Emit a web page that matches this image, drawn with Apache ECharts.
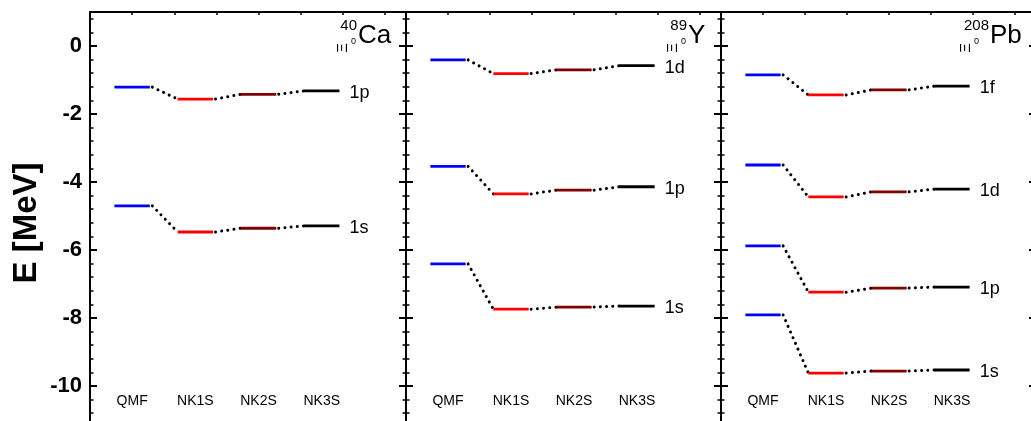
<!DOCTYPE html>
<html>
<head>
<meta charset="utf-8">
<script src="https://cdn.jsdelivr.net/npm/echarts@6/dist/echarts.min.js"></script>
<style>
  html, body { margin: 0; padding: 0; background: #fff; }
  #main { width: 1031px; height: 421px; }
</style>
</head>
<body>
<div id="main"></div>
<script>
// models along the x axis
var methods = ['QMF', 'NK1S', 'NK2S', 'NK3S'];
var methodX = [1, 2.5, 4, 5.5];
var methodColors = ['#0000ff', '#ff0000', '#800000', '#000000'];

// Xi0 single particle energies (MeV), order QMF, NK1S, NK2S, NK3S
var ca1p = [-1.21, -1.56, -1.42, -1.32];
var ca1s = [-4.70, -5.47, -5.36, -5.29];

var y1d = [-0.41, -0.81, -0.70, -0.58];
var y1p = [-3.54, -4.35, -4.24, -4.14];
var y1s = [-6.41, -7.74, -7.68, -7.65];

var pb1f = [-0.85, -1.44, -1.29, -1.18];
var pb1d = [-3.50, -4.44, -4.29, -4.21];
var pb1p = [-5.88, -7.24, -7.12, -7.09];
var pb1s = [-7.91, -9.62, -9.56, -9.53];

var nuclei = [
  { mass: '40', sym: 'Ca', states: [['1p', ca1p], ['1s', ca1s]] },
  { mass: '89', sym: 'Y', states: [['1d', y1d], ['1p', y1p], ['1s', y1s]] },
  { mass: '208', sym: 'Pb', states: [['1f', pb1f], ['1d', pb1d], ['1p', pb1p], ['1s', pb1s]] }
];

var yTicks = { min: -12, max: 1, interval: 2 };
var catLabelE = -10.45;

var FONT = '"Liberation Sans", Arial, sans-serif';
var panelLeft = [90, 406, 721];
var panelWidth = [316, 315, 315];
// where the nucleus symbol starts and where the sub/superscript block starts
var titleSymX = [358, 688, 990];
var titleSupLeft = [339, 669, 962];
var halfW = 0.42;

var myChart = echarts.init(document.getElementById('main'));

function levelRenderer(values, state) {
  return function (params, api) {
    var i = params.dataIndex;
    var x = api.value(0);
    var E = api.value(1);
    var a = api.coord([x - halfW, E]);
    var b = api.coord([x + halfW, E]);
    var children = [{
      type: 'line',
      shape: { x1: a[0], y1: a[1], x2: b[0], y2: b[1] },
      style: { stroke: methodColors[i], lineWidth: 2.8 }
    }];
    if (i < values.length - 1) {
      var c = api.coord([methodX[i + 1] - halfW, values[i + 1]]);
      children.push({
        type: 'line',
        shape: { x1: b[0] + 2.5, y1: b[1], x2: c[0], y2: c[1] },
        style: { stroke: '#000', lineWidth: 3, lineDash: [0.01, 6.2], lineCap: 'round' }
      });
    } else {
      children.push({
        type: 'text',
        style: {
          x: b[0] + 10, y: b[1] + 2, text: state,
          font: '18px ' + FONT, fill: '#000', verticalAlign: 'middle'
        }
      });
    }
    return { type: 'group', children: children };
  };
}

function catRenderer(params, api) {
  var p = api.coord([api.value(0), api.value(1)]);
  return {
    type: 'text',
    style: {
      x: p[0], y: p[1], text: methods[params.dataIndex],
      font: '14px ' + FONT, fill: '#000', align: 'center', verticalAlign: 'middle'
    }
  };
}

var grids = [], xAxes = [], yAxes = [], series = [], graphics = [];

nuclei.forEach(function (nuc, p) {
  grids.push({
    left: panelLeft[p], width: panelWidth[p], top: 12, height: 442,
    outerBoundsMode: 'none', containLabel: false
  });

  xAxes.push({
    gridIndex: p, type: 'value', position: 'top', min: 0, max: 7.5, interval: 1,
    axisLine: { onZero: false, lineStyle: { color: '#000', width: 2 } },
    axisTick: { inside: true, length: 3, lineStyle: { color: '#000', width: 1.5 } },
    axisLabel: { show: false },
    splitLine: { show: false }
  });

  ['left', 'right'].forEach(function (pos) {
    yAxes.push({
      gridIndex: p, type: 'value', position: pos,
      min: yTicks.min, max: yTicks.max, interval: yTicks.interval,
      axisLine: { show: true, onZero: false, lineStyle: { color: '#000', width: 2 } },
      axisTick: { show: true, inside: true, length: 7, lineStyle: { color: '#000', width: 2 } },
      minorTick: { show: true, splitNumber: 5, length: 3.5, lineStyle: { color: '#000', width: 1.5 } },
      axisLabel: {
        show: p === 0 && pos === 'left', showMaxLabel: false,
        color: '#000', fontFamily: FONT, fontWeight: 'bold', fontSize: 22, margin: 8
      },
      splitLine: { show: false }
    });
  });

  nuc.states.forEach(function (st) {
    series.push({
      type: 'custom',
      xAxisIndex: p,
      yAxisIndex: 2 * p,
      renderItem: levelRenderer(st[1], st[0]),
      data: methodX.map(function (x, i) { return [x, st[1][i]]; }),
      encode: { x: 0, y: 1 },
      clip: false
    });
  });

  series.push({
    type: 'custom',
    xAxisIndex: p,
    yAxisIndex: 2 * p,
    renderItem: catRenderer,
    data: methodX.map(function (x) { return [x, catLabelE]; }),
    encode: { x: 0, y: 1 }
  });

  // nucleus title, e.g. 40 over Xi0 then Ca
  graphics.push({
    type: 'text',
    style: { x: titleSymX[p], y: 36, text: nuc.sym, font: '26px ' + FONT, fill: '#000', verticalAlign: 'middle' }
  });
  graphics.push({
    type: 'text',
    style: { x: titleSymX[p] - 1, y: 26, text: nuc.mass, font: '15px ' + FONT, fill: '#000', align: 'right', verticalAlign: 'middle' }
  });
  graphics.push({
    type: 'text',
    x: titleSupLeft[p] + 4, y: 48, rotation: Math.PI / 2,
    style: { x: 0, y: 0, text: 'Ξ', font: '15px ' + FONT, fill: '#000', align: 'center', verticalAlign: 'middle' }
  });
  graphics.push({
    type: 'text',
    style: { x: titleSupLeft[p] + 12, y: 42, text: '0', font: '9px ' + FONT, fill: '#000', verticalAlign: 'middle' }
  });
});

graphics.push({
  type: 'text',
  x: 27, y: 223, rotation: Math.PI / 2,
  style: { x: 0, y: 0, text: 'E [MeV]', font: 'bold 33px ' + FONT, fill: '#000', align: 'center', verticalAlign: 'middle' }
});

var option = {
  animation: false,
  backgroundColor: '#fff',
  grid: grids,
  xAxis: xAxes,
  yAxis: yAxes,
  series: series,
  graphic: graphics
};
myChart.setOption(option);
</script>
</body>
</html>
